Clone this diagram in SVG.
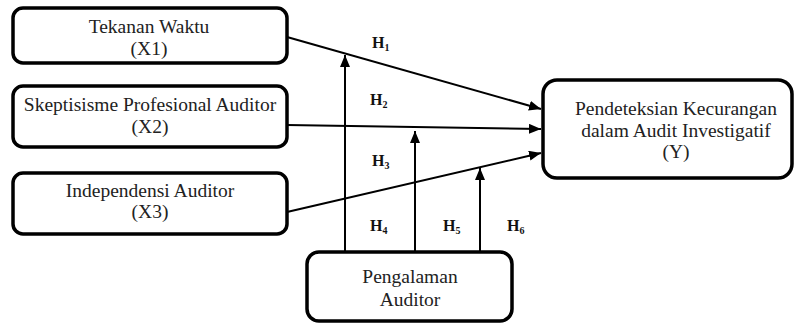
<svg xmlns="http://www.w3.org/2000/svg" width="796" height="324" viewBox="0 0 796 324">
<defs>
<style>
.box{fill:#fff;stroke:#000;stroke-width:3.5}
.t{font-family:"Liberation Serif","Times New Roman",serif;font-size:19.5px;fill:#222;text-anchor:middle}
.h{font-family:"Liberation Serif","Times New Roman",serif;font-size:16px;font-weight:bold;fill:#111}
.h tspan{font-size:10px}
.c{stroke:#000;stroke-width:2;fill:none;marker-end:url(#ah)}
</style>
<marker id="ah" markerUnits="userSpaceOnUse" markerWidth="13" markerHeight="10" refX="12" refY="5" orient="auto">
<path d="M0,0 L12,5 L0,10 z" fill="#000"/>
</marker>
</defs>
<rect width="796" height="324" fill="#fff"/>
<g id="connectors">
<line class="c" x1="287" y1="37" x2="541" y2="109"/>
<line class="c" x1="287" y1="125" x2="541" y2="129"/>
<line class="c" x1="287" y1="212" x2="541" y2="153"/>
<line class="c" x1="345" y1="252" x2="345" y2="55"/>
<line class="c" x1="415" y1="252" x2="415" y2="131"/>
<line class="c" x1="480" y1="252" x2="480" y2="168"/>
</g>
<g id="labels">
<text class="h" x="372" y="48">H<tspan dy="3">1</tspan></text>
<text class="h" x="370" y="105">H<tspan dy="3">2</tspan></text>
<text class="h" x="372" y="166">H<tspan dy="3">3</tspan></text>
<text class="h" x="370" y="231">H<tspan dy="3">4</tspan></text>
<text class="h" x="443" y="231">H<tspan dy="3">5</tspan></text>
<text class="h" x="507" y="231">H<tspan dy="3">6</tspan></text>
</g>
<g id="x1">
<rect class="box" x="13" y="8" width="274" height="55" rx="10"/>
<text class="t" x="149" y="33">Tekanan Waktu</text>
<text class="t" x="149" y="55">(X1)</text>
</g>
<g id="x2">
<rect class="box" x="13" y="86" width="274" height="61" rx="10"/>
<text class="t" x="150" y="111">Skeptisisme Profesional Auditor</text>
<text class="t" x="150" y="133">(X2)</text>
</g>
<g id="x3">
<rect class="box" x="13" y="173" width="274" height="61" rx="10"/>
<text class="t" x="150" y="197">Independensi Auditor</text>
<text class="t" x="150" y="218">(X3)</text>
</g>
<g id="y">
<rect class="box" x="543" y="80" width="249" height="98" rx="14"/>
<text class="t" x="676" y="115">Pendeteksian Kecurangan</text>
<text class="t" x="676" y="137">dalam Audit Investigatif</text>
<text class="t" x="676" y="158">(Y)</text>
</g>
<g id="pengalaman">
<rect class="box" x="307" y="252" width="205" height="69" rx="12"/>
<text class="t" x="410" y="283">Pengalaman</text>
<text class="t" x="410" y="306">Auditor</text>
</g>
</svg>
